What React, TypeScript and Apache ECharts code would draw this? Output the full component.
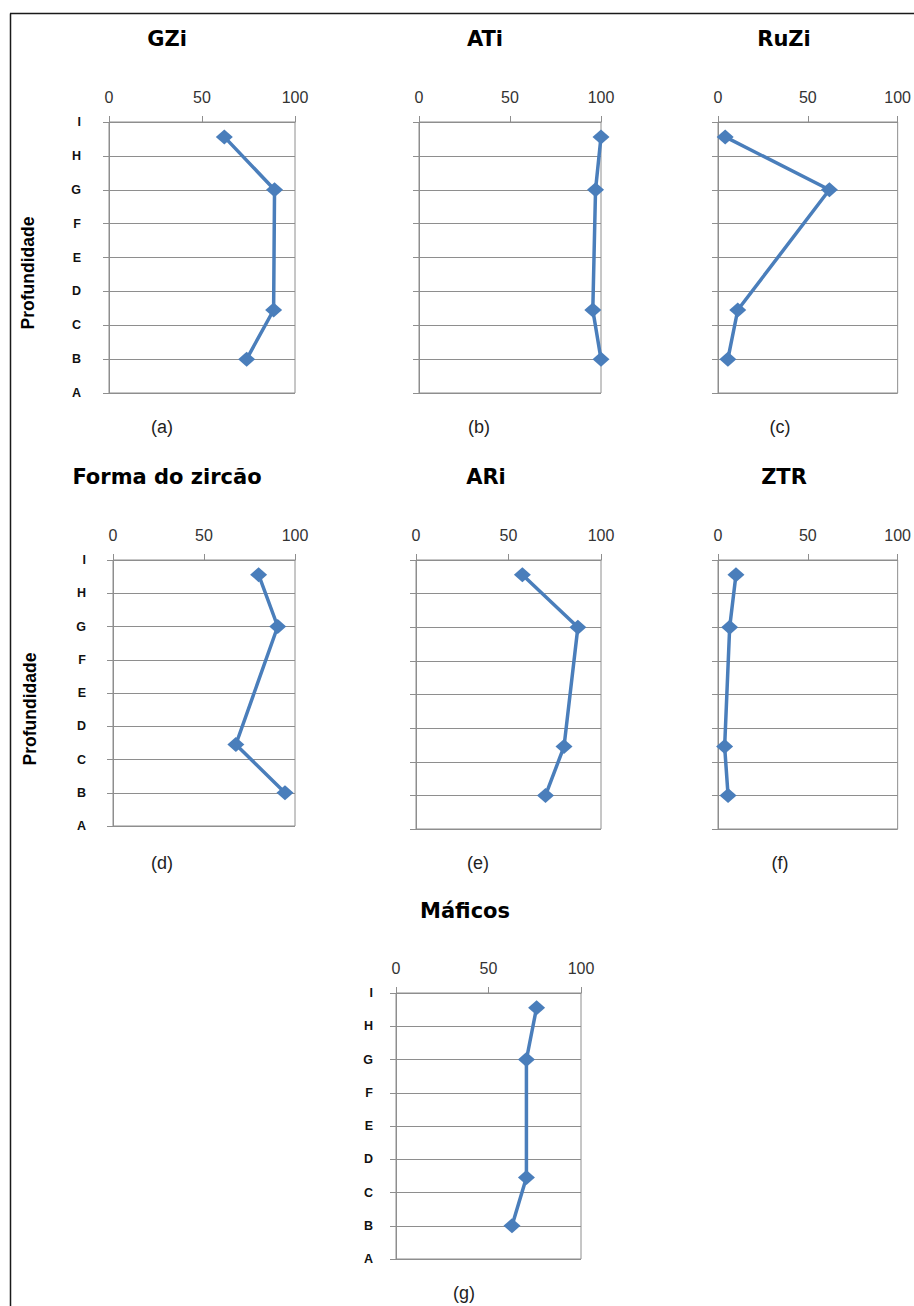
import React, { useEffect, useRef } from "react";
import * as echarts from "echarts";

// ---- data ----
const LETTERS = ["A", "B", "C", "D", "E", "F", "G", "H", "I"];
const xTicks = [0, 50, 100];
const depthLevels = [7.56, 6, 2.45, 1];
const gziValues = [62, 89, 88.5, 74];
const atiValues = [100, 97, 95.5, 100];
const ruziValues = [4, 62, 11, 5.5];
const formaValues = [80, 90.5, 67.5, 94.5];
const ariValues = [57.5, 87.5, 80, 70];
const ztrValues = [10, 6.5, 3.7, 5.6];
const maficosValues = [76, 70.5, 70.5, 62.7];
const panelTitles = ["GZi", "ATi", "RuZi", "Forma do zircão", "ARi", "ZTR", "Máficos"];
const panelTags = ["(a)", "(b)", "(c)", "(d)", "(e)", "(f)", "(g)"];
const yAxisTitle = "Profundidade";

const seriesValues = [gziValues, atiValues, ruziValues, formaValues, ariValues, ztrValues, maficosValues];

// ---- layout ----
const layout = [
  { grid: { left: 109, top: 122, width: 186, height: 271 }, title: [167, 39], tag: [162, 427], letters: 28, yTitle: [28, 273] },
  { grid: { left: 419, top: 122, width: 182, height: 271 }, title: [485, 39], tag: [479, 427], letters: 0, yTitle: null },
  { grid: { left: 718, top: 122, width: 180, height: 271 }, title: [784, 39], tag: [780, 427], letters: 0, yTitle: null },
  { grid: { left: 113, top: 560, width: 182, height: 266 }, title: [167, 477], tag: [162, 863], letters: 27, yTitle: [30, 709] },
  { grid: { left: 416, top: 560, width: 185, height: 269 }, title: [486, 477], tag: [478, 863], letters: 0, yTitle: null },
  { grid: { left: 718, top: 560, width: 180, height: 269 }, title: [784, 477], tag: [780, 863], letters: 0, yTitle: null },
  { grid: { left: 396, top: 993, width: 185, height: 266 }, title: [465, 911], tag: [464, 1293], letters: 23, yTitle: null },
];

const GRAY = "#8e8e8e";
const BLUE = "#4a7ebb";
const LETTER_FONT = '"Liberation Sans", Arial, sans-serif';

export default function App() {
  const ref = useRef<HTMLDivElement>(null);

  useEffect(() => {
    if (!ref.current) return;
    const chart = echarts.init(ref.current, null, { renderer: "svg" });

    const grids: any[] = [];
    const xAxes: any[] = [];
    const yAxes: any[] = [];
    const series: any[] = [];
    const graphics: any[] = [];

    layout.forEach((p, i) => {
      grids.push({
        ...p.grid,
        show: true,
        borderColor: GRAY,
        borderWidth: 1,
        backgroundColor: "transparent",
        containLabel: false,
      });
      xAxes.push({
        type: "value",
        gridIndex: i,
        position: "top",
        min: xTicks[0],
        max: xTicks[xTicks.length - 1],
        interval: xTicks[1] - xTicks[0],
        axisLine: { show: true, onZero: false, lineStyle: { color: GRAY, width: 1 } },
        axisTick: { show: true, inside: false, length: 6, lineStyle: { color: GRAY } },
        axisLabel: {
          show: true,
          margin: 17,
          color: "#333",
          fontFamily: '"Liberation Sans", Arial, sans-serif',
          fontSize: 16,
        },
        splitLine: { show: false },
      });
      yAxes.push({
        type: "value",
        gridIndex: i,
        min: 0,
        max: LETTERS.length - 1,
        interval: 1,
        axisLine: { show: true, onZero: false, lineStyle: { color: GRAY, width: 1 } },
        axisTick: { show: true, inside: false, length: 6, lineStyle: { color: GRAY } },
        axisLabel: {
          show: p.letters > 0,
          margin: p.letters || 8,
          color: "#111",
          fontFamily: LETTER_FONT,
          fontWeight: "bold",
          fontSize: 12.5,
          formatter: (v: number) => LETTERS[Math.round(v)] ?? "",
        },
        splitLine: { show: true, lineStyle: { color: GRAY, width: 1 } },
      });
      series.push({
        type: "line",
        xAxisIndex: i,
        yAxisIndex: i,
        data: seriesValues[i].map((v, k) => [v, depthLevels[k]]),
        symbol: "diamond",
        symbolSize: [17, 15],
        clip: false,
        lineStyle: { color: BLUE, width: 3.5 },
        itemStyle: { color: BLUE },
        emphasis: { disabled: true },
      });
      graphics.push({
        type: "text",
        x: p.title[0],
        y: p.title[1],
        style: {
          text: panelTitles[i],
          font: 'bold 21px "DejaVu Sans", sans-serif',
          fill: "#000",
          align: "center",
          verticalAlign: "middle",
          textAlign: "center",
          textVerticalAlign: "middle",
        },
      });
      graphics.push({
        type: "text",
        x: p.tag[0],
        y: p.tag[1],
        style: {
          text: panelTags[i],
          font: '18px "Liberation Sans", Arial, sans-serif',
          fill: "#222",
          align: "center",
          verticalAlign: "middle",
          textAlign: "center",
          textVerticalAlign: "middle",
        },
      });
      if (p.yTitle) {
        graphics.push({
          type: "text",
          x: p.yTitle[0],
          y: p.yTitle[1],
          rotation: Math.PI / 2,
          style: {
            text: yAxisTitle,
            font: 'bold 17.5px ' + LETTER_FONT,
            fill: "#000",
            align: "center",
            verticalAlign: "middle",
            textAlign: "center",
            textVerticalAlign: "middle",
          },
        });
      }
    });

    // outer frame (left and top edges)
    graphics.push({
      type: "line",
      shape: { x1: 10.5, y1: 13.5, x2: 10.5, y2: 1306 },
      style: { stroke: "#1a1a1a", lineWidth: 1.5 },
    });
    graphics.push({
      type: "line",
      shape: { x1: 10, y1: 13.5, x2: 914, y2: 13.5 },
      style: { stroke: "#1a1a1a", lineWidth: 1.5 },
    });

    chart.setOption({
      animation: false,
      backgroundColor: "#fff",
      grid: grids,
      xAxis: xAxes,
      yAxis: yAxes,
      series,
      graphic: graphics,
    });

    return () => chart.dispose();
  }, []);

  return (
    <div
      ref={ref}
      style={{ position: "absolute", left: 0, top: 0, width: 914, height: 1306 }}
    />
  );
}
